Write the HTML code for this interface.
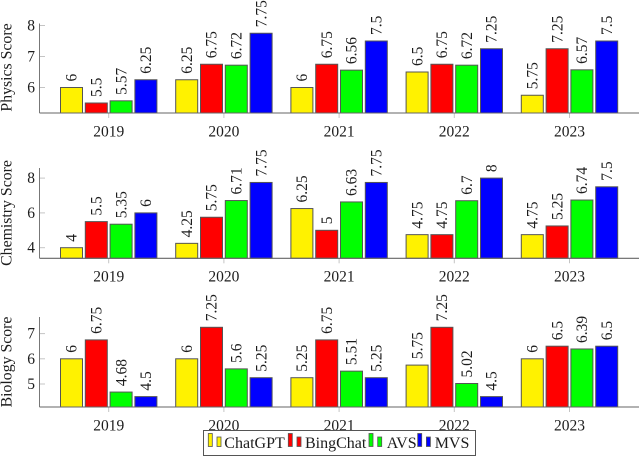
<!DOCTYPE html>
<html lang="en">
<head>
<meta charset="utf-8">
<title>Subject scores by year</title>
<style>
html,body{margin:0;padding:0;background:#fff;}
svg{display:block;}
text{font-family:"Liberation Serif",serif;fill:#1c1c1c;font-size:15.5px;}
</style>
</head>
<body>
<svg id="chart" xmlns="http://www.w3.org/2000/svg" width="640" height="456" viewBox="0 0 640 456"></svg>
<script>
const years = ['2019', '2020', '2021', '2022', '2023'];
const seriesNames = ['ChatGPT', 'BingChat', 'AVS', 'MVS'];
const physicsChatGPT = [6, 6.25, 6, 6.5, 5.75];
const physicsBingChat = [5.5, 6.75, 6.75, 6.75, 7.25];
const physicsAVS = [5.57, 6.72, 6.56, 6.72, 6.57];
const physicsMVS = [6.25, 7.75, 7.5, 7.25, 7.5];
const chemistryChatGPT = [4, 4.25, 6.25, 4.75, 4.75];
const chemistryBingChat = [5.5, 5.75, 5, 4.75, 5.25];
const chemistryAVS = [5.35, 6.71, 6.63, 6.7, 6.74];
const chemistryMVS = [6, 7.75, 7.75, 8, 7.5];
const biologyChatGPT = [6, 6, 5.25, 5.75, 6];
const biologyBingChat = [6.75, 7.25, 6.75, 7.25, 6.5];
const biologyAVS = [4.68, 5.6, 5.51, 5.02, 6.39];
const biologyMVS = [4.5, 5.25, 5.25, 4.5, 6.5];
const physicsTicks = [6, 7, 8];
const chemistryTicks = [4, 6, 8];
const biologyTicks = [5, 6, 7];

const seriesColors = ['#fff200', '#ff0000', '#00ff00', '#0000ff'];
const svg = document.getElementById('chart');
const NS = 'http://www.w3.org/2000/svg';

function make(tag, attrs, parent) {
  const el = document.createElementNS(NS, tag);
  for (const k in attrs) el.setAttribute(k, attrs[k]);
  parent.appendChild(el);
  return el;
}
function xScale(i) { return 108.7 + i * 115.2; }

function drawPanel(slug, title, titleY, series, ticks, refVal, refY, pxPerUnit, axisY, axisTop) {
  const yScale = v => refY - (v - refVal) * pxPerUnit;
  const g = make('g', {}, svg);
  
  

  ticks.forEach(t => {
    const tick = make('line', {x1: 40, x2: 45, y1: yScale(t), y2: yScale(t), stroke: '#c4c4c4', 'stroke-width': 1}, g);
    
    
    const lab = make('text', {x: 35, y: yScale(t) + 5, 'text-anchor': 'end'}, g);
    lab.textContent = String(t);
    
    
  });

  years.forEach((yr, i) => {
    const tick = make('line', {x1: xScale(i), x2: xScale(i), y1: axisY, y2: axisY + 5, stroke: '#c4c4c4', 'stroke-width': 1}, g);
    
    
    const lab = make('text', {x: xScale(i), y: axisY + 23.4, 'text-anchor': 'middle'}, g);
    lab.textContent = yr;
    
    
  });

  series.forEach((vals, s) => {
    vals.forEach((v, i) => {
      const cx = xScale(i) + (s - 1.5) * 24.8;
      const top = yScale(v);
      const bar = make('rect', {x: cx - 11, y: top, width: 22, height: axisY - top, fill: seriesColors[s], stroke: '#555', 'stroke-width': 1}, g);
      
      
      const lab = make('text', {transform: 'translate(' + (cx + 5.2) + ' ' + (top - 6) + ') rotate(-90)'}, g);
      lab.textContent = String(v);
      
      
    });
  });

  const xAxis = make('line', {x1: 39.5, x2: 639, y1: axisY, y2: axisY, stroke: '#666', 'stroke-width': 1.1}, g);
  
  
  const yAxis = make('line', {x1: 39.5, x2: 39.5, y1: axisTop, y2: axisY, stroke: '#777', 'stroke-width': 1}, g);
  
  

  const yTitle = make('text', {transform: 'translate(11.5 ' + titleY + ') rotate(-90)', 'text-anchor': 'middle', style: 'font-size:15.8px'}, g);
  yTitle.textContent = title;
  
  
}

drawPanel('physics', 'Physics Score', 67.5,
  [physicsChatGPT, physicsBingChat, physicsAVS, physicsMVS], physicsTicks, 6, 87.5, 31, 113, 23.5);
drawPanel('chemistry', 'Chemistry Score', 213,
  [chemistryChatGPT, chemistryBingChat, chemistryAVS, chemistryMVS], chemistryTicks, 4, 247.7, 17.4, 258.3, 168);
drawPanel('biology', 'Biology Score', 362,
  [biologyChatGPT, biologyBingChat, biologyAVS, biologyMVS], biologyTicks, 5, 384, 25.2, 407, 317);

/* legend */
const legend = make('g', {}, svg);


const legendBox = make('rect', {x: 203.5, y: 430.5, width: 272, height: 25, fill: '#fff', stroke: '#555', 'stroke-width': 1}, legend);


const legendSwatchX = [208.3, 288.3, 369, 417.7];
const legendTextX = [224.3, 305, 386.7, 434.7];
seriesNames.forEach((name, s) => {
  const entry = make('g', {}, legend);
  
  
  make('rect', {x: legendSwatchX[s], y: 433.5, width: 4, height: 13, fill: seriesColors[s], stroke: '#555', 'stroke-width': 0.8}, entry);
  make('rect', {x: legendSwatchX[s] + 8.7, y: 437, width: 4, height: 9.5, fill: seriesColors[s], stroke: '#555', 'stroke-width': 0.8}, entry);
  const t = make('text', {x: legendTextX[s], y: 448, style: 'font-size:16px'}, entry);
  t.textContent = name;
});
</script>
</body>
</html>
